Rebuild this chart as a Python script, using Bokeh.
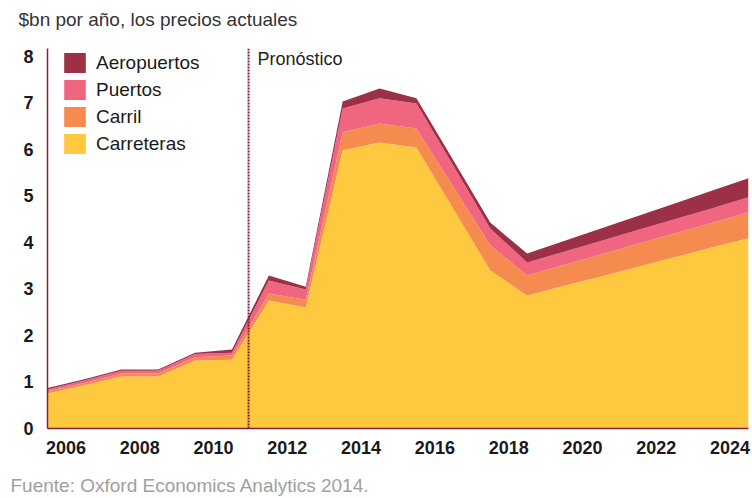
from bokeh.plotting import figure
from bokeh.models import (ColumnDataSource, Range1d, FixedTicker, Span, Label,
                          Legend, LegendItem, Title)
from bokeh.embed import file_html
from bokeh.resources import INLINE

# ---- data ----
years = list(range(2006, 2026))
carreteras = [0.75, 0.93, 1.12, 1.12, 1.46, 1.48, 2.75, 2.60, 5.98, 6.15,
              6.04, 4.72, 3.40, 2.86, 3.07, 3.27, 3.48, 3.68, 3.89, 4.09]
carril = [0.05, 0.05, 0.06, 0.06, 0.07, 0.09, 0.15, 0.17, 0.39, 0.41,
          0.41, 0.48, 0.54, 0.43, 0.45, 0.47, 0.49, 0.52, 0.53, 0.56]
puertos = [0.04, 0.05, 0.06, 0.06, 0.07, 0.06, 0.28, 0.22, 0.51, 0.54,
           0.54, 0.45, 0.36, 0.28, 0.28, 0.29, 0.30, 0.30, 0.31, 0.32]
aeropuertos = [0.03, 0.03, 0.03, 0.03, 0.03, 0.07, 0.11, 0.06, 0.15, 0.21,
               0.11, 0.12, 0.13, 0.19, 0.23, 0.27, 0.30, 0.34, 0.38, 0.41]
series_names = ["Carreteras", "Carril", "Puertos", "Aeropuertos"]
tick_years = [2006, 2008, 2010, 2012, 2014, 2016, 2018, 2020, 2022, 2024]
y_ticks = [0, 1, 2, 3, 4, 5, 6, 7, 8]
forecast_start = 2011.45

colors = ["#FEC93E", "#F68B4F", "#F0657F", "#9C3047"]
dark_red = "#8B1C35"
FONT = "Liberation Sans"

source = ColumnDataSource(dict(year=years, Carreteras=carreteras, Carril=carril,
                               Puertos=puertos, Aeropuertos=aeropuertos))

Y_TOP = 8.17
p = figure(width=752, height=498, output_backend="svg", toolbar_location=None,
           x_range=Range1d(2006, 2025), y_range=Range1d(0, Y_TOP),
           min_border_left=47, min_border_right=4, min_border_top=48,
           min_border_bottom=70)
p.outline_line_color = None
p.xgrid.visible = False
p.ygrid.visible = False

renderers = p.varea_stack(stackers=series_names, x="year", color=colors,
                          source=source)

# axes
p.xaxis.ticker = FixedTicker(ticks=[y + 0.5 for y in tick_years])
p.xaxis.major_label_overrides = {y + 0.5: str(y) for y in tick_years}
p.yaxis.ticker = FixedTicker(ticks=y_ticks)
for ax in (p.xaxis, p.yaxis):
    ax.axis_line_color = dark_red
    ax.axis_line_width = 1.5
    ax.major_tick_line_color = None
    ax.minor_tick_line_color = None
    ax.major_tick_out = 0
    ax.major_tick_in = 0
    ax.minor_tick_out = 0
    ax.major_label_text_font = FONT
    ax.major_label_text_font_style = "bold"
    ax.major_label_text_font_size = "18px"
    ax.major_label_text_color = "#1a1a1a"
p.xaxis.major_label_standoff = 12
p.yaxis.major_label_standoff = 14

# forecast line
p.add_layout(Span(location=forecast_start, dimension="height", line_color=dark_red,
                  line_width=2, line_dash="2 1"))
p.add_layout(Label(x=forecast_start, y=Y_TOP, x_offset=9, y_offset=0,
                   text="Pronóstico", text_font=FONT, text_font_size="18px",
                   text_color="#222222", text_baseline="top"))

# legend (top item first); area legend swatches are drawn at 80% of the glyph box
items = [LegendItem(label=n, renderers=[r]) for n, r in zip(series_names, renderers)]
legend = Legend(items=items[::-1], location=(14, 272), margin=0, padding=0,
                spacing=2, glyph_width=27, glyph_height=25, label_height=25,
                label_standoff=8, label_text_font=FONT,
                label_text_font_size="19px", label_text_color="#1a1a1a",
                border_line_alpha=0, background_fill_alpha=0)
p.add_layout(legend)

# title and source note
title = Title(text="$bn por año, los precios actuales\n", align="left", offset=-29,
              standoff=6, vertical_align="bottom", text_line_height=0.75,
              text_font=FONT, text_font_size="19px",
              text_font_style="normal", text_color="#333333")
p.add_layout(title, "above")
note = Title(text="\nFuente: Oxford Economics Analytics 2014.", align="left",
             offset=-37, standoff=0, vertical_align="bottom",
             text_line_height=0.75, text_font=FONT, text_font_size="19px",
             text_font_style="normal", text_color="#A0A0A0")
p.add_layout(note, "below")

open("out.html", "w").write(file_html(p, INLINE))
